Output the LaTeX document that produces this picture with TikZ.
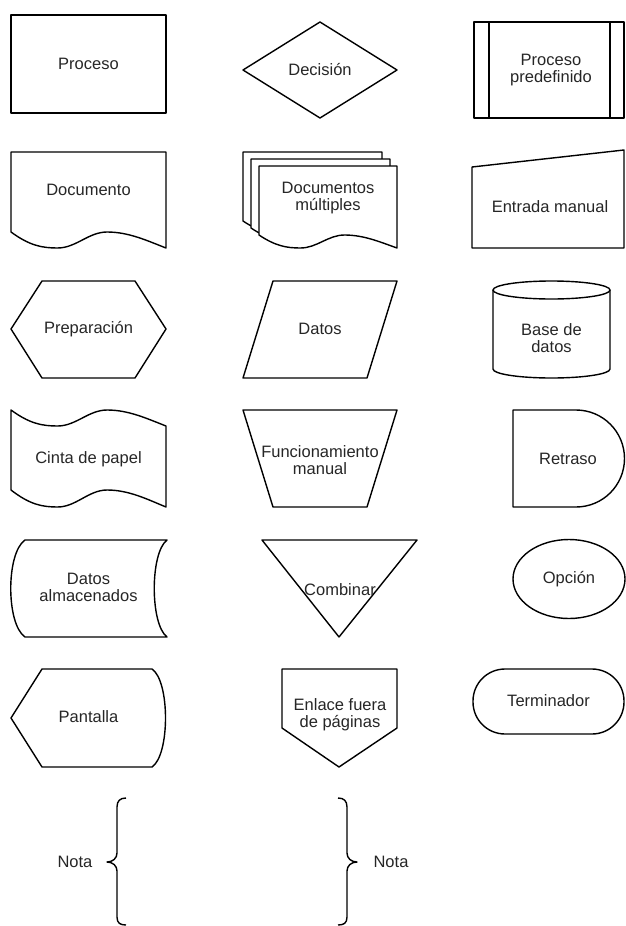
\documentclass[tikz,border=0pt]{standalone}
\usepackage{fontspec}
\setmainfont{Liberation Sans}
% wave along the bottom/top of a document-like shape: start (x,y), width w, depth d
\newcommand\wvpath[4]{.. controls ({#1+0.12*#3},{#2+0.85*#4}) and ({#1+0.2*#3},{#2+#4}) .. ({#1+0.3*#3},{#2+#4}) .. controls ({#1+0.42*#3},{#2+#4}) and ({#1+0.5*#3},{#2}) .. ({#1+0.62*#3},{#2}) .. controls ({#1+0.76*#3},{#2}) and ({#1+0.88*#3},{#2+0.55*#4}) .. ({#1+#3},{#2+#4})}
% the same wave, travelled from its right end back to its left end
\newcommand\wvrev[4]{.. controls ({#1+0.88*#3},{#2+0.55*#4}) and ({#1+0.76*#3},{#2}) .. ({#1+0.62*#3},{#2}) .. controls ({#1+0.5*#3},{#2}) and ({#1+0.42*#3},{#2+#4}) .. ({#1+0.3*#3},{#2+#4}) .. controls ({#1+0.2*#3},{#2+#4}) and ({#1+0.12*#3},{#2+0.85*#4}) .. ({#1},{#2})}
\begin{document}
\begin{tikzpicture}[x=1pt,y=-1pt,
  shp/.style={draw=black, line width=1.4pt, line join=round},
  lbl/.style={font=\fontsize{16.5}{17}\selectfont, align=center, inner sep=0pt, text=black!85}]
\useasboundingbox (0,0) rectangle (625,926);

% ---------- Row 1 ----------
\draw[shp] (11,15) rectangle (166,113);
\node[lbl] (proceso) at (88.5,64) {Proceso};

\draw[shp] (243,70) -- (320,22) -- (397,70) -- (320,118) -- cycle;
\node[lbl] (decision) at (320,70) {Decisión};

\draw[shp] (474,22) rectangle (624,118);
\draw[shp] (489,22) -- (489,118);
\draw[shp] (610,22) -- (610,118);
\node[lbl] (predef) at (551,70) {Proceso\\predefinido};

% ---------- Row 2 ----------
\draw[shp] (166,152) -- (11,152) -- (11,232) \wvpath{11}{232}{155}{16} -- cycle;
\node[lbl] (documento) at (88.5,190) {Documento};

\draw[shp, fill=white] (382,152) -- (243,152) -- (243,221) \wvpath{243}{221}{139}{13} -- cycle;
\draw[shp, fill=white] (390,159) -- (251,159) -- (251,228) \wvpath{251}{228}{139}{13} -- cycle;
\draw[shp, fill=white] (397,166) -- (259,166) -- (259,235) \wvpath{259}{235}{138}{13} -- cycle;
\node[lbl] (docs) at (328,198) {Documentos\\múltiples};

\draw[shp] (472,167) -- (624,150) -- (624,248) -- (472,248) -- cycle;
\node[lbl] (entrada) at (550,207) {Entrada manual};

% ---------- Row 3 ----------
\draw[shp] (11,329) -- (42,281) -- (135,281) -- (166,329) -- (135,378) -- (42,378) -- cycle;
\node[lbl] (prep) at (88.5,329) {Preparación};

\draw[shp] (273,281) -- (397,281) -- (367,378) -- (243,378) -- cycle;
\node[lbl] (datos) at (320,329) {Datos};

\draw[shp] (551.5,290) ellipse [x radius=58.5, y radius=9];
\draw[shp] (493,290) -- (493,369)
  .. controls (493,374) and (519.2,378) .. (551.5,378)
  .. controls (583.8,378) and (610,374) .. (610,369) -- (610,290);
\node[lbl] (bd) at (551.5,338) {Base de\\datos};

% ---------- Row 4 ----------
\draw[shp] (11,410) \wvpath{11}{410}{155}{16} -- (166,507) \wvrev{11}{490}{155}{17} -- cycle;
\node[lbl] (cinta) at (88.5,459) {Cinta de papel};

\draw[shp] (243,410) -- (397,410) -- (367,507) -- (273,507) -- cycle;
\node[lbl] (func) at (320,460) {Funcionamiento\\manual};

\draw[shp] (513,410) -- (576,410)
  .. controls (602.8,410) and (624.5,431.7) .. (624.5,458.5)
  .. controls (624.5,485.3) and (602.8,507) .. (576,507) -- (513,507) -- cycle;
\node[lbl] (retraso) at (568,459) {Retraso};

% ---------- Row 5 ----------
\draw[shp] (25,540) -- (167,540) .. controls (150,553) and (150,624) .. (167,637)
  -- (25,637) .. controls (6,624) and (6,553) .. (25,540) -- cycle;
\node[lbl] (dalm) at (88.5,587) {Datos\\almacenados};

\draw[shp] (262,540) -- (417,540) -- (339,637) -- cycle;
\node[lbl] (combinar) at (340,590) {Combinar};

\draw[shp] (569,579) ellipse [x radius=56, y radius=39.5];
\node[lbl] (opcion) at (569,579) {Opción};

% ---------- Row 6 ----------
\draw[shp] (11,718) -- (42,669) -- (152,669) .. controls (170,681) and (170,755) .. (152,767)
  -- (42,767) -- cycle;
\node[lbl] (pantalla) at (88.5,717) {Pantalla};

\draw[shp] (282,669) -- (397,669) -- (397,728) -- (339,767) -- (282,728) -- cycle;
\node[lbl] (enlace) at (340,715) {Enlace fuera\\de páginas};

\draw[shp, rounded corners=32pt] (473,669) rectangle (624,734);
\node[lbl] (terminador) at (548.5,701) {Terminador};

% ---------- Row 7: notes ----------
\draw[shp] (126,798) .. controls (120,798) and (117,801) .. (117,807) -- (117,853)
  .. controls (117,858) and (113,862) .. (107,862)
  .. controls (113,862) and (117,866) .. (117,871) -- (117,917)
  .. controls (117,923) and (120,925) .. (126,925);
\node[lbl] (nota1) at (75,862) {Nota};

\draw[shp] (338,798) .. controls (344,798) and (347,801) .. (347,807) -- (347,853)
  .. controls (347,858) and (351,862) .. (357,862)
  .. controls (351,862) and (347,866) .. (347,871) -- (347,917)
  .. controls (347,923) and (344,925) .. (338,925);
\node[lbl] (nota2) at (391,862) {Nota};
\end{tikzpicture}
\end{document}
